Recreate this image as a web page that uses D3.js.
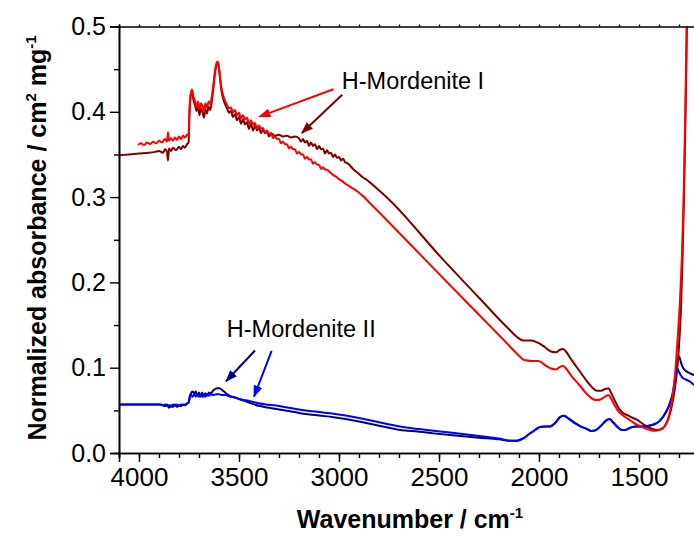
<!DOCTYPE html>
<html>
<head>
<meta charset="utf-8">
<script src="https://cdn.jsdelivr.net/npm/d3@7"></script>
<style>
  body { margin: 0; background: #fff; }
  svg { display: block; }
  text { font-family: "Liberation Sans", Arial, sans-serif; white-space: pre; }
</style>
</head>
<body>
<svg id="chart" width="694" height="538"></svg>
<script>
// ---- IR spectra (wavenumber / cm-1, normalized absorbance / cm2 mg-1) ----

// H-Mordenite I, first spectrum (dark red)
const mI_a_wn = [4100,4050,4000,3950,3920,3900,3880,3870,3860,3855,3850,3840,3830,3815,3800,3790,3780,3770,3760,3752,3748,3742,3735,3728,3720,3712,3705,3698,3690,3682,3675,3668,3660,3652,3644,3636,3628,3620,3612,3606,3600,3594,3588,3580,3570,3560,3550,3540,3530,3520,3510,3500,3490,3480,3470,3460,3450,3440,3430,3420,3410,3400,3390,3380,3370,3360,3350,3340,3320,3300,3280,3260,3240,3220,3200,3190,3180,3170,3160,3150,3140,3130,3120,3110,3100,3090,3080,3070,3060,3050,3040,3030,3020,3010,3000,2990,2980,2970,2960,2945,2930,2915,2900,2880,2860,2845,2745,2500,2300,2150,2110,2080,2040,2003,1970,1940,1915,1895,1880,1865,1840,1800,1760,1730,1712,1690,1670,1653,1640,1620,1600,1580,1555,1530,1510,1480,1453,1430,1410,1390,1370,1350,1330,1315,1300,1290,1282,1275,1267,1259];
const mI_a_abs = [0.349,0.350,0.351,0.352,0.353,0.354,0.352,0.356,0.353,0.343,0.357,0.354,0.358,0.355,0.359,0.356,0.360,0.358,0.362,0.364,0.395,0.418,0.424,0.414,0.408,0.401,0.407,0.396,0.404,0.399,0.393,0.403,0.398,0.406,0.402,0.412,0.428,0.445,0.456,0.458,0.450,0.437,0.425,0.416,0.409,0.404,0.399,0.401,0.394,0.397,0.390,0.394,0.386,0.391,0.385,0.388,0.380,0.386,0.378,0.384,0.378,0.381,0.375,0.379,0.375,0.377,0.371,0.375,0.372,0.373,0.371,0.372,0.370,0.371,0.369,0.365,0.368,0.364,0.366,0.360,0.364,0.360,0.362,0.356,0.360,0.356,0.357,0.351,0.355,0.351,0.352,0.347,0.350,0.346,0.347,0.343,0.345,0.341,0.340,0.337,0.333,0.330,0.327,0.323,0.320,0.317,0.296,0.232,0.182,0.145,0.136,0.132,0.132,0.129,0.124,0.119,0.118,0.121,0.122,0.119,0.110,0.097,0.084,0.076,0.073,0.073,0.075,0.076,0.071,0.061,0.052,0.047,0.044,0.041,0.039,0.034,0.030,0.028,0.027,0.028,0.032,0.042,0.062,0.085,0.125,0.170,0.230,0.300,0.400,0.520];

// H-Mordenite I, second spectrum (red)
const mI_b_wn = [4005,3990,3975,3960,3945,3930,3915,3900,3885,3870,3860,3855,3850,3840,3830,3820,3810,3800,3790,3780,3770,3760,3752,3748,3742,3735,3728,3720,3712,3705,3698,3690,3682,3675,3668,3660,3652,3644,3636,3628,3620,3612,3606,3600,3594,3588,3580,3570,3560,3550,3540,3530,3520,3510,3500,3490,3480,3470,3460,3450,3440,3430,3420,3410,3400,3390,3380,3370,3360,3350,3340,3330,3320,3310,3300,3290,3280,3270,3260,3250,3240,3230,3220,3210,3200,3190,3180,3170,3160,3150,3140,3130,3120,3110,3100,3090,3080,3070,3060,3045,3030,3015,3000,2985,2970,2950,2930,2910,2890,2870,2850,2820,2795,2500,2300,2150,2100,2075,2040,2003,1970,1940,1915,1895,1880,1865,1840,1800,1760,1730,1712,1690,1670,1653,1640,1620,1600,1580,1555,1530,1500,1470,1445,1425,1400,1380,1365,1350,1335,1320,1308,1295,1285,1278,1270,1262,1255];
const mI_b_abs = [0.361,0.363,0.361,0.364,0.362,0.365,0.363,0.366,0.364,0.368,0.365,0.376,0.366,0.369,0.366,0.370,0.367,0.371,0.368,0.372,0.370,0.373,0.374,0.400,0.420,0.426,0.418,0.412,0.405,0.412,0.403,0.410,0.406,0.401,0.410,0.405,0.412,0.409,0.418,0.432,0.448,0.457,0.459,0.452,0.440,0.428,0.420,0.413,0.408,0.404,0.405,0.399,0.402,0.396,0.399,0.392,0.396,0.391,0.393,0.386,0.390,0.385,0.387,0.380,0.384,0.380,0.381,0.375,0.378,0.374,0.375,0.369,0.371,0.368,0.368,0.363,0.365,0.362,0.362,0.357,0.359,0.356,0.356,0.351,0.353,0.350,0.350,0.345,0.347,0.344,0.344,0.339,0.341,0.338,0.338,0.333,0.335,0.332,0.332,0.329,0.326,0.324,0.321,0.319,0.316,0.313,0.310,0.307,0.303,0.299,0.294,0.287,0.281,0.210,0.162,0.126,0.114,0.109,0.108,0.108,0.103,0.099,0.098,0.101,0.102,0.099,0.091,0.080,0.069,0.063,0.062,0.063,0.066,0.068,0.064,0.055,0.048,0.044,0.040,0.036,0.032,0.029,0.027,0.026,0.027,0.029,0.034,0.044,0.062,0.092,0.130,0.180,0.235,0.290,0.380,0.500,0.600];

// H-Mordenite II, first spectrum (navy)
const mII_a_wn = [4100,4000,3900,3880,3870,3860,3850,3840,3830,3820,3810,3800,3790,3780,3770,3760,3752,3747,3740,3732,3724,3716,3708,3700,3692,3684,3676,3668,3660,3650,3640,3630,3620,3610,3600,3590,3575,3560,3545,3520,3495,3450,3395,3300,3200,3100,3028,2900,2800,2695,2600,2528,2445,2300,2200,2145,2110,2080,2050,2020,2000,1970,1945,1920,1895,1875,1850,1820,1790,1760,1737,1715,1690,1665,1648,1630,1605,1585,1570,1540,1510,1480,1450,1420,1395,1370,1350,1330,1315,1300,1290,1280,1265,1245,1225,1200];
const mII_a_abs = [0.057,0.057,0.057,0.056,0.055,0.057,0.053,0.056,0.054,0.057,0.054,0.056,0.055,0.057,0.056,0.058,0.059,0.066,0.070,0.072,0.070,0.072,0.067,0.071,0.066,0.071,0.066,0.070,0.067,0.071,0.070,0.073,0.075,0.076,0.076,0.075,0.072,0.069,0.067,0.065,0.063,0.059,0.055,0.051,0.047,0.044,0.042,0.037,0.032,0.027,0.025,0.023,0.021,0.018,0.016,0.0145,0.0145,0.017,0.022,0.027,0.030,0.031,0.031,0.035,0.042,0.0437,0.040,0.035,0.031,0.028,0.0258,0.027,0.032,0.038,0.040,0.036,0.030,0.027,0.027,0.030,0.031,0.031,0.032,0.034,0.038,0.046,0.056,0.072,0.095,0.113,0.106,0.100,0.096,0.0934,0.0914,0.090];

// H-Mordenite II, second spectrum (blue)
const mII_b_wn = [4100,4000,3900,3880,3870,3860,3850,3840,3830,3820,3810,3800,3790,3780,3770,3760,3752,3747,3740,3732,3724,3716,3708,3700,3692,3684,3676,3668,3660,3650,3640,3630,3615,3600,3585,3570,3545,3520,3495,3450,3395,3300,3200,3100,3028,2900,2800,2695,2600,2528,2445,2300,2200,2145,2110,2080,2050,2020,2000,1970,1945,1920,1895,1875,1850,1820,1790,1760,1737,1715,1690,1665,1648,1630,1605,1585,1570,1540,1510,1480,1450,1420,1395,1370,1350,1330,1318,1308,1298,1285,1265,1245,1225,1200];
const mII_b_abs = [0.057,0.057,0.057,0.056,0.057,0.055,0.056,0.054,0.057,0.055,0.057,0.055,0.057,0.056,0.057,0.058,0.059,0.064,0.068,0.066,0.069,0.066,0.069,0.066,0.069,0.066,0.069,0.066,0.069,0.067,0.069,0.068,0.069,0.069,0.068,0.068,0.066,0.065,0.063,0.061,0.058,0.055,0.051,0.048,0.046,0.041,0.036,0.031,0.028,0.026,0.024,0.020,0.017,0.0145,0.0145,0.017,0.022,0.027,0.030,0.031,0.031,0.035,0.042,0.0437,0.040,0.035,0.031,0.028,0.0258,0.027,0.032,0.038,0.040,0.036,0.030,0.027,0.027,0.030,0.031,0.031,0.032,0.034,0.038,0.046,0.055,0.068,0.085,0.099,0.094,0.089,0.086,0.0836,0.0797,0.077];

// Axis ticks
const xMajorTicks = [4000, 3500, 3000, 2500, 2000, 1500];
const xMinorTicks = d3.range(4100, 1199, -100);
const yMajorTicks = [0.0, 0.1, 0.2, 0.3, 0.4, 0.5];
const yMinorTicks = [0.05, 0.15, 0.25, 0.35, 0.45];

// Annotation labels and arrows (in data coordinates: [wavenumber, absorbance])
const labelI = { text: "H-Mordenite I", at: [2986, 0.4264] };
const labelII = { text: "H-Mordenite II", at: [3561, 0.1356] };
const arrowsI = [
  { from: [3028, 0.4264], to: [3398, 0.3943], color: "#ff0000" },
  { from: [2984, 0.4200], to: [3186, 0.3751], color: "#800000" }
];
const arrowsII = [
  { from: [3420, 0.1202], to: [3565, 0.0841], color: "#000080" },
  { from: [3337, 0.1196], to: [3425, 0.0660], color: "#0000ff" }
];

// ---- Layout ----
const svg = d3.select("#chart");
const plotLeft = 119, plotRight = 699, plotTop = 26.5, plotBottom = 453;

const x = d3.scaleLinear().domain([4100, 1200]).range([plotLeft, plotRight]);
const y = d3.scaleLinear().domain([0, 0.5]).range([plotBottom, plotTop]);

svg.append("defs").append("clipPath").attr("id", "plotClip")
  .append("rect")
  .attr("x", plotLeft).attr("y", plotTop)
  .attr("width", plotRight - plotLeft).attr("height", plotBottom - plotTop);

// ---- Spectra ----
const zip = (wn, ab) => wn.map((w, i) => [w, ab[i]]);
const line = d3.line()
  .x(d => x(d[0]))
  .y(d => y(d[1]))
  .curve(d3.curveMonotoneX);

const spectra = [
  { data: zip(mII_a_wn, mII_a_abs), color: "#000080" },
  { data: zip(mI_a_wn, mI_a_abs), color: "#800000" },
  { data: zip(mII_b_wn, mII_b_abs), color: "#0000ff" },
  { data: zip(mI_b_wn, mI_b_abs), color: "#ff0000" }
];

const gLines = svg.append("g").attr("clip-path", "url(#plotClip)");
gLines.selectAll("path")
  .data(spectra)
  .join("path")
  .attr("d", d => line(d.data))
  .attr("fill", "none")
  .attr("stroke", d => d.color)
  .attr("stroke-width", 2)
  .attr("stroke-linejoin", "round");

// ---- Axes ----
function styleAxis(g) {
  g.select(".domain").attr("stroke", "#000").attr("stroke-width", 1.6);
  g.selectAll(".tick line").attr("stroke", "#000").attr("stroke-width", 1.4);
}

// bottom
svg.append("g").attr("transform", `translate(0,${plotBottom})`)
  .call(d3.axisBottom(x).tickValues(xMinorTicks).tickSize(5).tickFormat(""))
  .call(styleAxis);
svg.append("g").attr("transform", `translate(0,${plotBottom})`)
  .call(d3.axisBottom(x).tickValues(xMajorTicks).tickSize(9).tickPadding(6).tickFormat(d3.format("d")))
  .call(styleAxis)
  .call(g => g.selectAll(".tick text").attr("font-size", 26).attr("fill", "#000")
    .style("font-family", "'Liberation Sans', Arial, sans-serif"));

// top border with small ticks
svg.append("g").attr("transform", `translate(0,${plotTop})`)
  .call(d3.axisTop(x).tickValues(xMinorTicks).tickSize(2).tickFormat(""))
  .call(styleAxis);

// left
svg.append("g").attr("transform", `translate(${plotLeft},0)`)
  .call(d3.axisLeft(y).tickValues(yMinorTicks).tickSize(5).tickFormat(""))
  .call(styleAxis);
svg.append("g").attr("transform", `translate(${plotLeft},0)`)
  .call(d3.axisLeft(y).tickValues(yMajorTicks).tickSize(9).tickPadding(4).tickFormat(d3.format(".1f")))
  .call(styleAxis)
  .call(g => g.selectAll(".tick text").attr("font-size", 25).attr("fill", "#000")
    .style("font-family", "'Liberation Sans', Arial, sans-serif"));

// ---- Axis titles ----
const yTitle = svg.append("text")
  .attr("transform", "translate(46,238) rotate(-90)")
  .attr("text-anchor", "middle")
  .attr("font-size", 25)
  .attr("font-weight", "bold")
  .attr("fill", "#000");
yTitle.append("tspan").text("Normalized absorbance / cm");
yTitle.append("tspan").attr("font-size", 15).attr("dy", -10).text("2");
yTitle.append("tspan").attr("dy", 10).text(" mg");
yTitle.append("tspan").attr("font-size", 15).attr("dy", -10).text("-1");

const xTitle = svg.append("text")
  .attr("x", 410).attr("y", 528)
  .attr("text-anchor", "middle")
  .attr("font-size", 25)
  .attr("font-weight", "bold")
  .attr("fill", "#000");
xTitle.append("tspan").text("Wavenumber / cm");
xTitle.append("tspan").attr("font-size", 15).attr("dy", -10).text("-1");

// ---- Annotations ----
const defs = svg.select("defs");
function arrowMarker(color, i) {
  const id = "head" + i;
  defs.append("marker")
    .attr("id", id)
    .attr("viewBox", "0 -5 12 10")
    .attr("refX", 11).attr("refY", 0)
    .attr("markerUnits", "userSpaceOnUse")
    .attr("markerWidth", 12).attr("markerHeight", 10)
    .attr("orient", "auto")
    .append("path")
    .attr("d", "M0,-4.5L12,0L0,4.5Z")
    .attr("fill", color);
  return id;
}

[...arrowsI, ...arrowsII].forEach((a, i) => {
  const id = arrowMarker(a.color, i);
  svg.append("line")
    .attr("x1", x(a.from[0])).attr("y1", y(a.from[1]))
    .attr("x2", x(a.to[0])).attr("y2", y(a.to[1]))
    .attr("stroke", a.color)
    .attr("stroke-width", 2)
    .attr("marker-end", `url(#${id})`);
});

[labelI, labelII].forEach(l => {
  svg.append("text")
    .attr("x", x(l.at[0])).attr("y", y(l.at[1]))
    .attr("font-size", 23.5)
    .attr("fill", "#000")
    .text(l.text);
});
</script>
</body>
</html>
